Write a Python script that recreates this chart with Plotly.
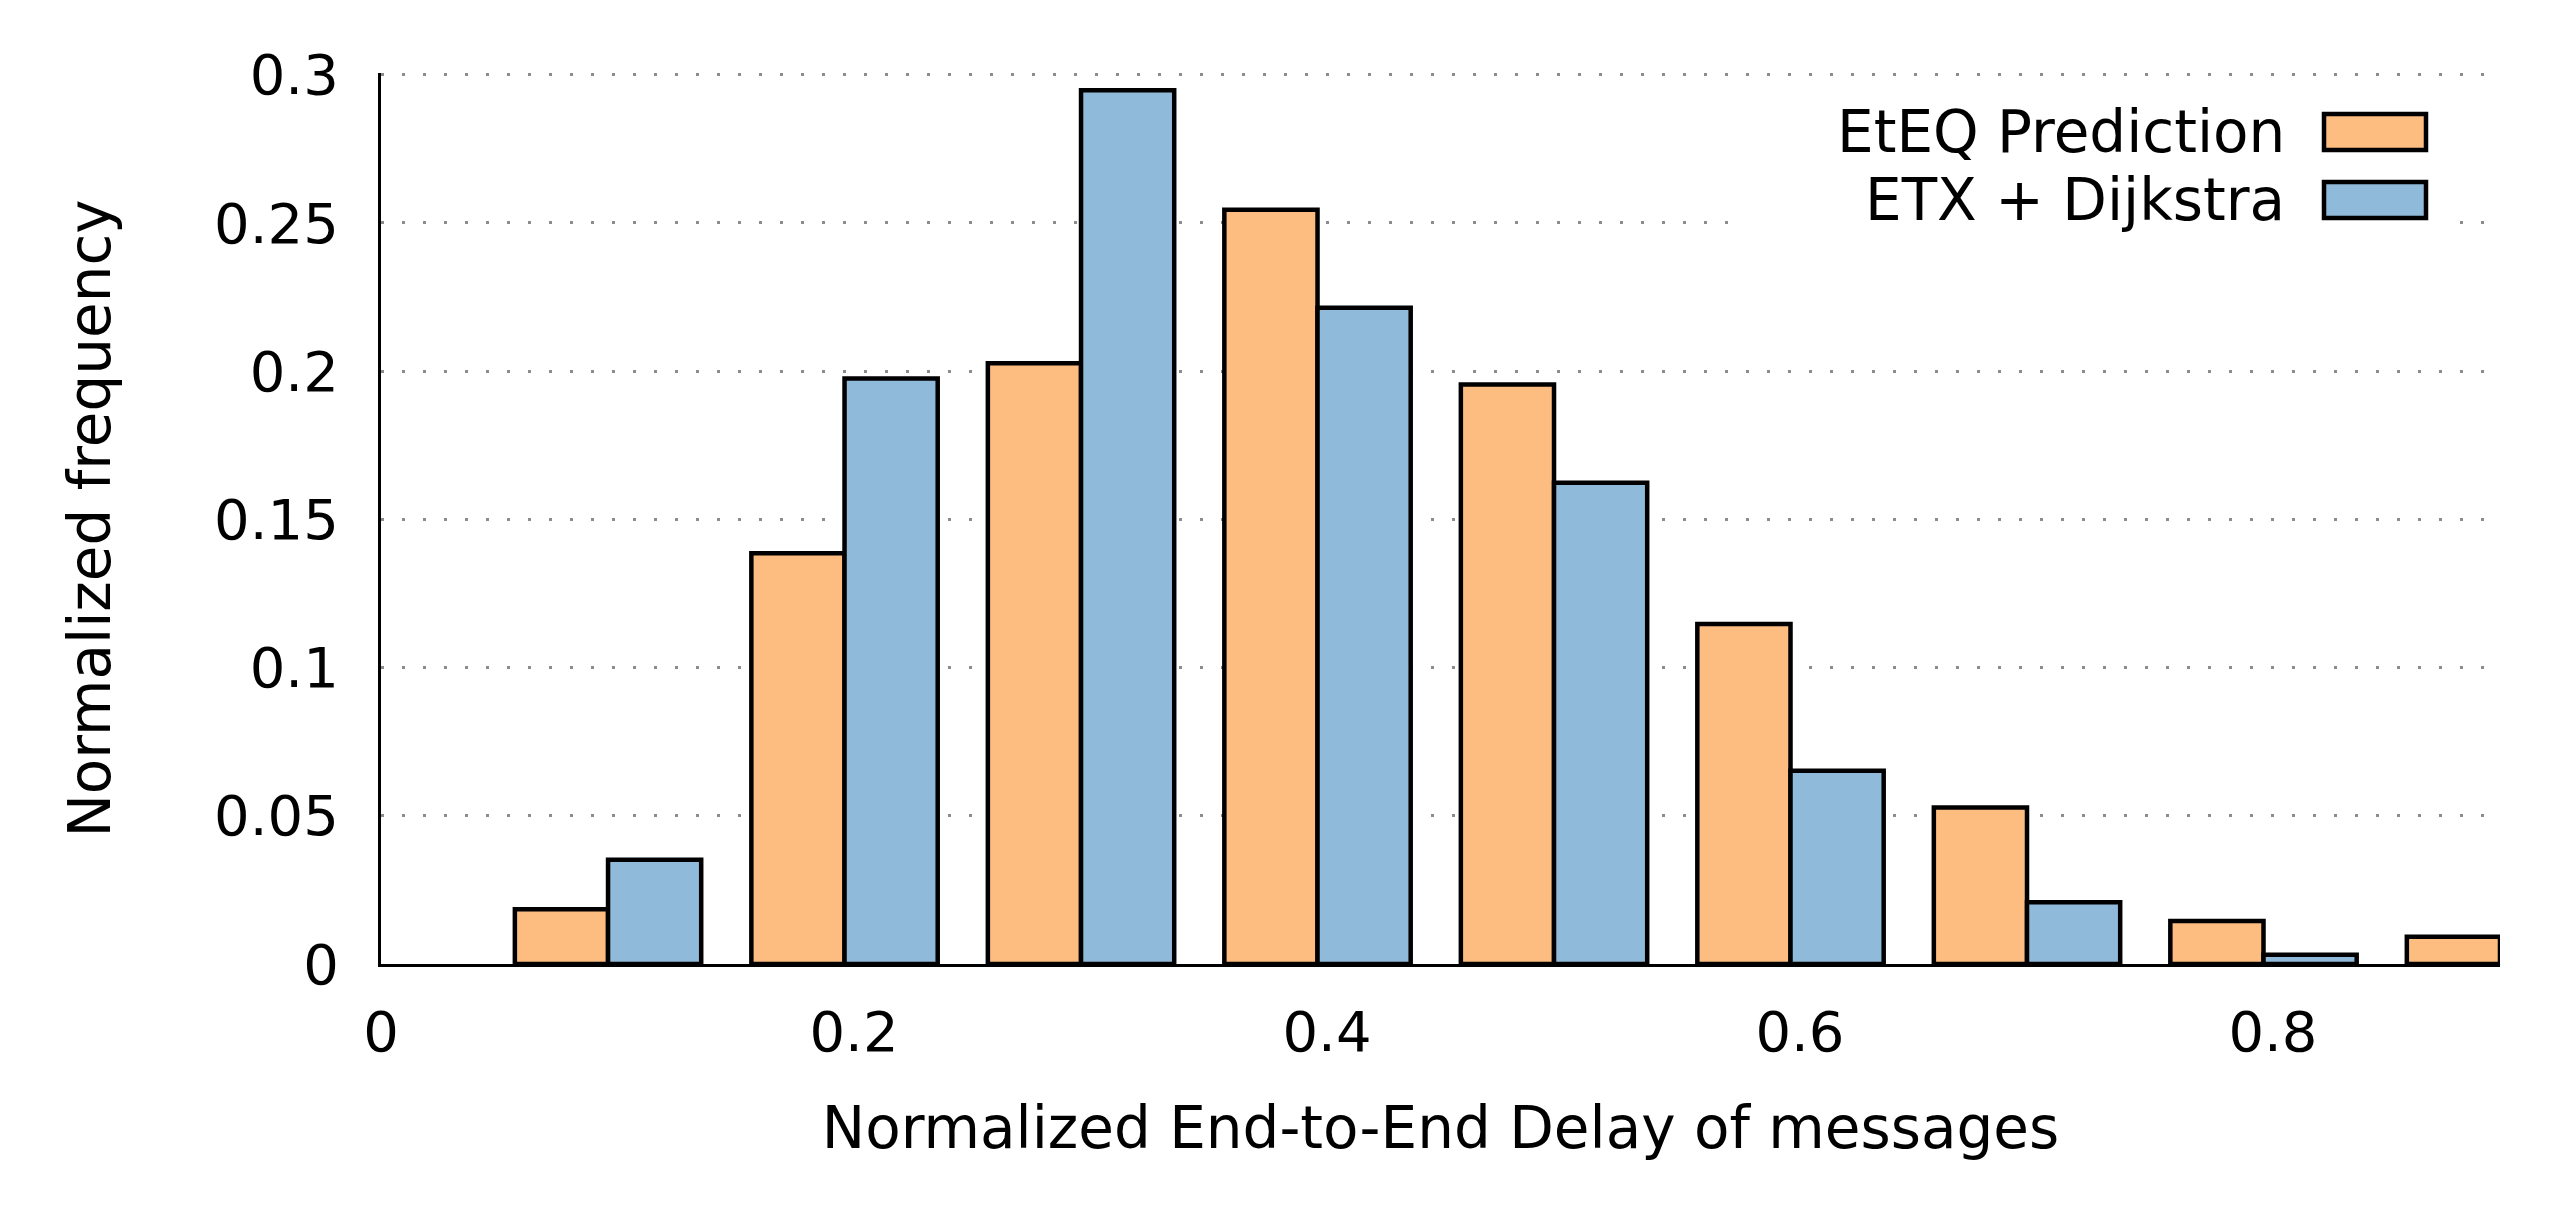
import plotly.graph_objects as go

# ---- data ----
bin_centers = [0.096, 0.196, 0.296, 0.396, 0.496, 0.596, 0.696, 0.796, 0.896]
eteq_prediction = [0.0185, 0.1386, 0.2027, 0.2545, 0.1955, 0.1147, 0.0528, 0.0145, 0.0092]
etx_dijkstra = [0.0352, 0.1975, 0.2948, 0.2214, 0.1624, 0.0652, 0.0208, 0.0031, 0.0]
series_names = ["EtEQ Prediction", "ETX + Dijkstra"]
x_tick_vals = [0, 0.2, 0.4, 0.6, 0.8]
x_tick_text = ["0", "0.2", "0.4", "0.6", "0.8"]
y_tick_vals = [0, 0.05, 0.1, 0.15, 0.2, 0.25, 0.3]
y_tick_text = ["0", "0.05", "0.1", "0.15", "0.2", "0.25", "0.3"]
x_title = "Normalized End-to-End Delay of messages"
y_title = "Normalized frequency"

ORANGE = "#FDBC80"
BLUE = "#8FBAD9"
FONT = "DejaVu Sans, Liberation Sans, sans-serif"
FS_TICK = 56
FS_TEXT = 58

W, H = 2564, 1210
L, R, T, B = 381, 64, 73, 246

fig = go.Figure()
for name, vals, col in [(series_names[0], eteq_prediction, ORANGE),
                        (series_names[1], etx_dijkstra, BLUE)]:
    fig.add_bar(x=bin_centers, y=vals, name=name,
                marker=dict(color=col, line=dict(color="black", width=4.5)))

fig.update_layout(
    width=W, height=H,
    margin=dict(l=L, r=R, t=T, b=B),
    barmode="group", bargap=0.212, bargroupgap=0,
    showlegend=False,
    plot_bgcolor="white", paper_bgcolor="white",
    font=dict(family=FONT, size=FS_TICK, color="black"),
)
fig.update_xaxes(
    range=[0, 0.896], tickvals=x_tick_vals, ticktext=x_tick_text,
    showline=True, linecolor="black", linewidth=3,
    showgrid=False, zeroline=False, ticks="",
    ticklabelstandoff=17,
    tickfont=dict(family=FONT, size=FS_TICK, color="black"),
    title=dict(text=x_title, font=dict(family=FONT, size=FS_TEXT, color="black"), standoff=45),
)
fig.update_yaxes(
    range=[0, 0.3006], tickvals=y_tick_vals, ticktext=y_tick_text,
    showline=True, linecolor="black", linewidth=3,
    showgrid=True, gridcolor="#8c8c8c", gridwidth=3, griddash="3px,18px",
    zeroline=False, ticks="",
    ticklabelstandoff=28,
    tickfont=dict(family=FONT, size=FS_TICK, color="black"),
    title=dict(text=y_title, font=dict(family=FONT, size=FS_TEXT, color="black"), standoff=85),
)

# legend: text on the left, swatch on the right (as in the reference)
pw, ph = W - L - R, H - T - B
def px_x(px):
    return (px - L) / pw
def px_y(py):
    return (H - B - py) / ph

# white legend box hiding the grid behind it
fig.add_shape(type="rect", xref="paper", yref="paper", layer="above",
              x0=px_x(1735), x1=px_x(2455), y0=px_y(242), y1=px_y(92),
              fillcolor="white", line=dict(width=0))

rows = [(series_names[0], ORANGE, 132), (series_names[1], BLUE, 200)]
for name, col, cy in rows:
    fig.add_annotation(xref="paper", yref="paper", x=px_x(2287), y=px_y(cy),
                       text=name, showarrow=False, xanchor="right", yanchor="middle",
                       font=dict(family=FONT, size=FS_TEXT, color="black"))
    fig.add_shape(type="rect", xref="paper", yref="paper", layer="above",
                  x0=px_x(2324), x1=px_x(2426), y0=px_y(cy + 18), y1=px_y(cy - 18),
                  fillcolor=col, line=dict(color="black", width=4.5))

fig.write_html("out.html",
               config={"displayModeBar": False},
               post_script="document.body.style.margin='0';document.body.style.overflow='hidden';")
